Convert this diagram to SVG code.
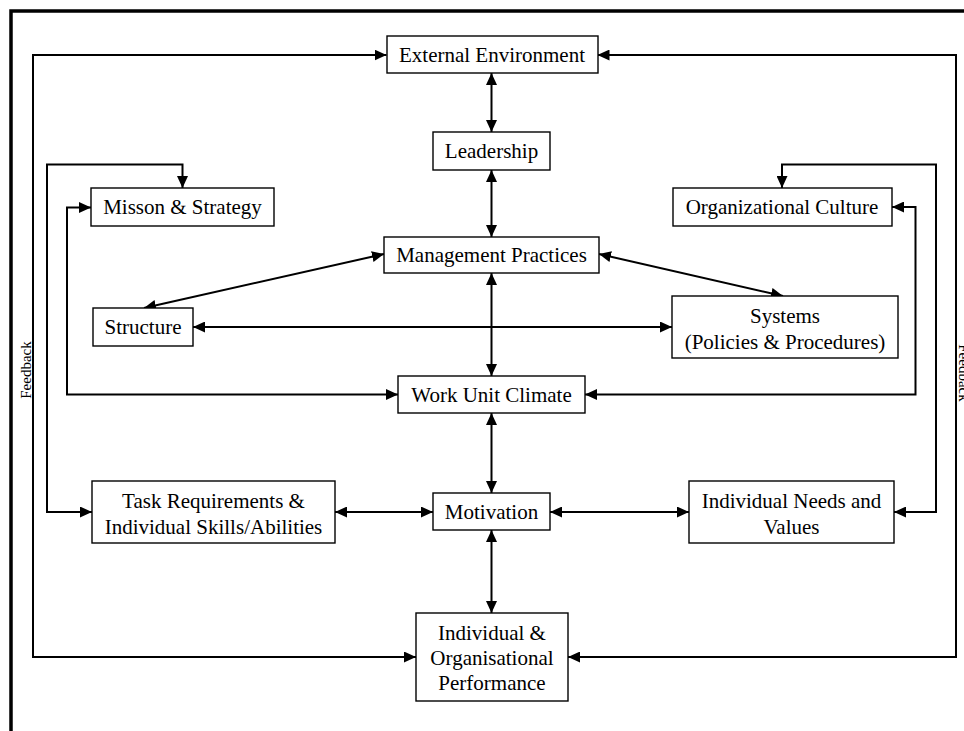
<svg xmlns="http://www.w3.org/2000/svg" width="964" height="731" viewBox="0 0 964 731">
<style>
.box{fill:#fff;stroke:#000;stroke-width:1.4}
.t{font-family:"Liberation Serif","Times New Roman",serif;font-size:21px;fill:#000;text-anchor:middle}
.fb{font-family:"Liberation Serif","Times New Roman",serif;font-size:15px;fill:#000;text-anchor:middle}
.c{fill:none;stroke:#000;stroke-width:2;marker-start:url(#ah);marker-end:url(#ah)}
</style>
<defs>
<marker id="ah" markerUnits="userSpaceOnUse" markerWidth="12" markerHeight="11" refX="12" refY="5.5" orient="auto-start-reverse" viewBox="0 0 12 11">
<path d="M0,0 L12,5.5 L0,11 z" fill="#000"/>
</marker>
</defs>
<rect width="964" height="731" fill="#fff"/>
<rect x="11" y="11" width="980" height="760" fill="none" stroke="#000" stroke-width="3.5"/>
<g id="connectors">
<path class="c" d="M416,657 H33 V55 H386.5"/>
<path class="c" d="M568,657 H956 V55 H597.5"/>
<path class="c" d="M182.5,188 V164.5 H47 V512 H92"/>
<path class="c" d="M91,207.5 H67 V394.5 H398"/>
<path class="c" d="M782,188 V164.5 H936 V512 H894"/>
<path class="c" d="M892,207 H915.5 V394.5 H585"/>
<path class="c" d="M491.5,73 V132"/>
<path class="c" d="M491.5,170 V237"/>
<path class="c" d="M491.5,273 V376"/>
<path class="c" d="M491.5,413 V493"/>
<path class="c" d="M491.5,530 V613"/>
<path class="c" d="M193,327 H672"/>
<path class="c" d="M384,254 L144,308"/>
<path class="c" d="M599,254 L783,296"/>
<path class="c" d="M335,512 H433"/>
<path class="c" d="M550,512 H689"/>
</g>
<g id="external-environment"><rect class="box" x="387" y="36" width="211" height="37"/><text class="t" x="492" y="62">External Environment</text></g>
<g id="leadership"><rect class="box" x="433" y="132" width="117" height="38"/><text class="t" x="491.5" y="158">Leadership</text></g>
<g id="mission-strategy"><rect class="box" x="91" y="188" width="183" height="38"/><text class="t" x="182.5" y="214">Misson &amp; Strategy</text></g>
<g id="organizational-culture"><rect class="box" x="673" y="188" width="219" height="38"/><text class="t" x="782" y="214">Organizational Culture</text></g>
<g id="management-practices"><rect class="box" x="384" y="237" width="215" height="36"/><text class="t" x="491.5" y="262">Management Practices</text></g>
<g id="structure"><rect class="box" x="93" y="308" width="100" height="38"/><text class="t" x="143" y="334">Structure</text></g>
<g id="systems"><rect class="box" x="672" y="296" width="226" height="62"/><text class="t" x="785" y="323">Systems</text><text class="t" x="785" y="349">(Policies &amp; Procedures)</text></g>
<g id="work-unit-climate"><rect class="box" x="398" y="376" width="187" height="37"/><text class="t" x="491.5" y="402">Work Unit Climate</text></g>
<g id="task-requirements"><rect class="box" x="92" y="481" width="243" height="62"/><text class="t" x="213.5" y="508">Task Requirements &amp;</text><text class="t" x="213.5" y="534">Individual Skills/Abilities</text></g>
<g id="motivation"><rect class="box" x="433" y="493" width="117" height="37"/><text class="t" x="491.5" y="519">Motivation</text></g>
<g id="individual-needs"><rect class="box" x="689" y="481" width="205" height="62"/><text class="t" x="791.5" y="508">Individual Needs and</text><text class="t" x="791.5" y="534">Values</text></g>
<g id="performance"><rect class="box" x="416" y="613" width="152" height="88"/><text class="t" x="492" y="640">Individual &amp;</text><text class="t" x="492" y="665">Organisational</text><text class="t" x="492" y="690">Performance</text></g>
<g id="feedback-left"><text class="fb" transform="translate(31,370) rotate(-90)">Feedback</text></g>
<g id="feedback-right"><text class="fb" transform="translate(959,373) rotate(90)">Feedback</text></g>
</svg>
